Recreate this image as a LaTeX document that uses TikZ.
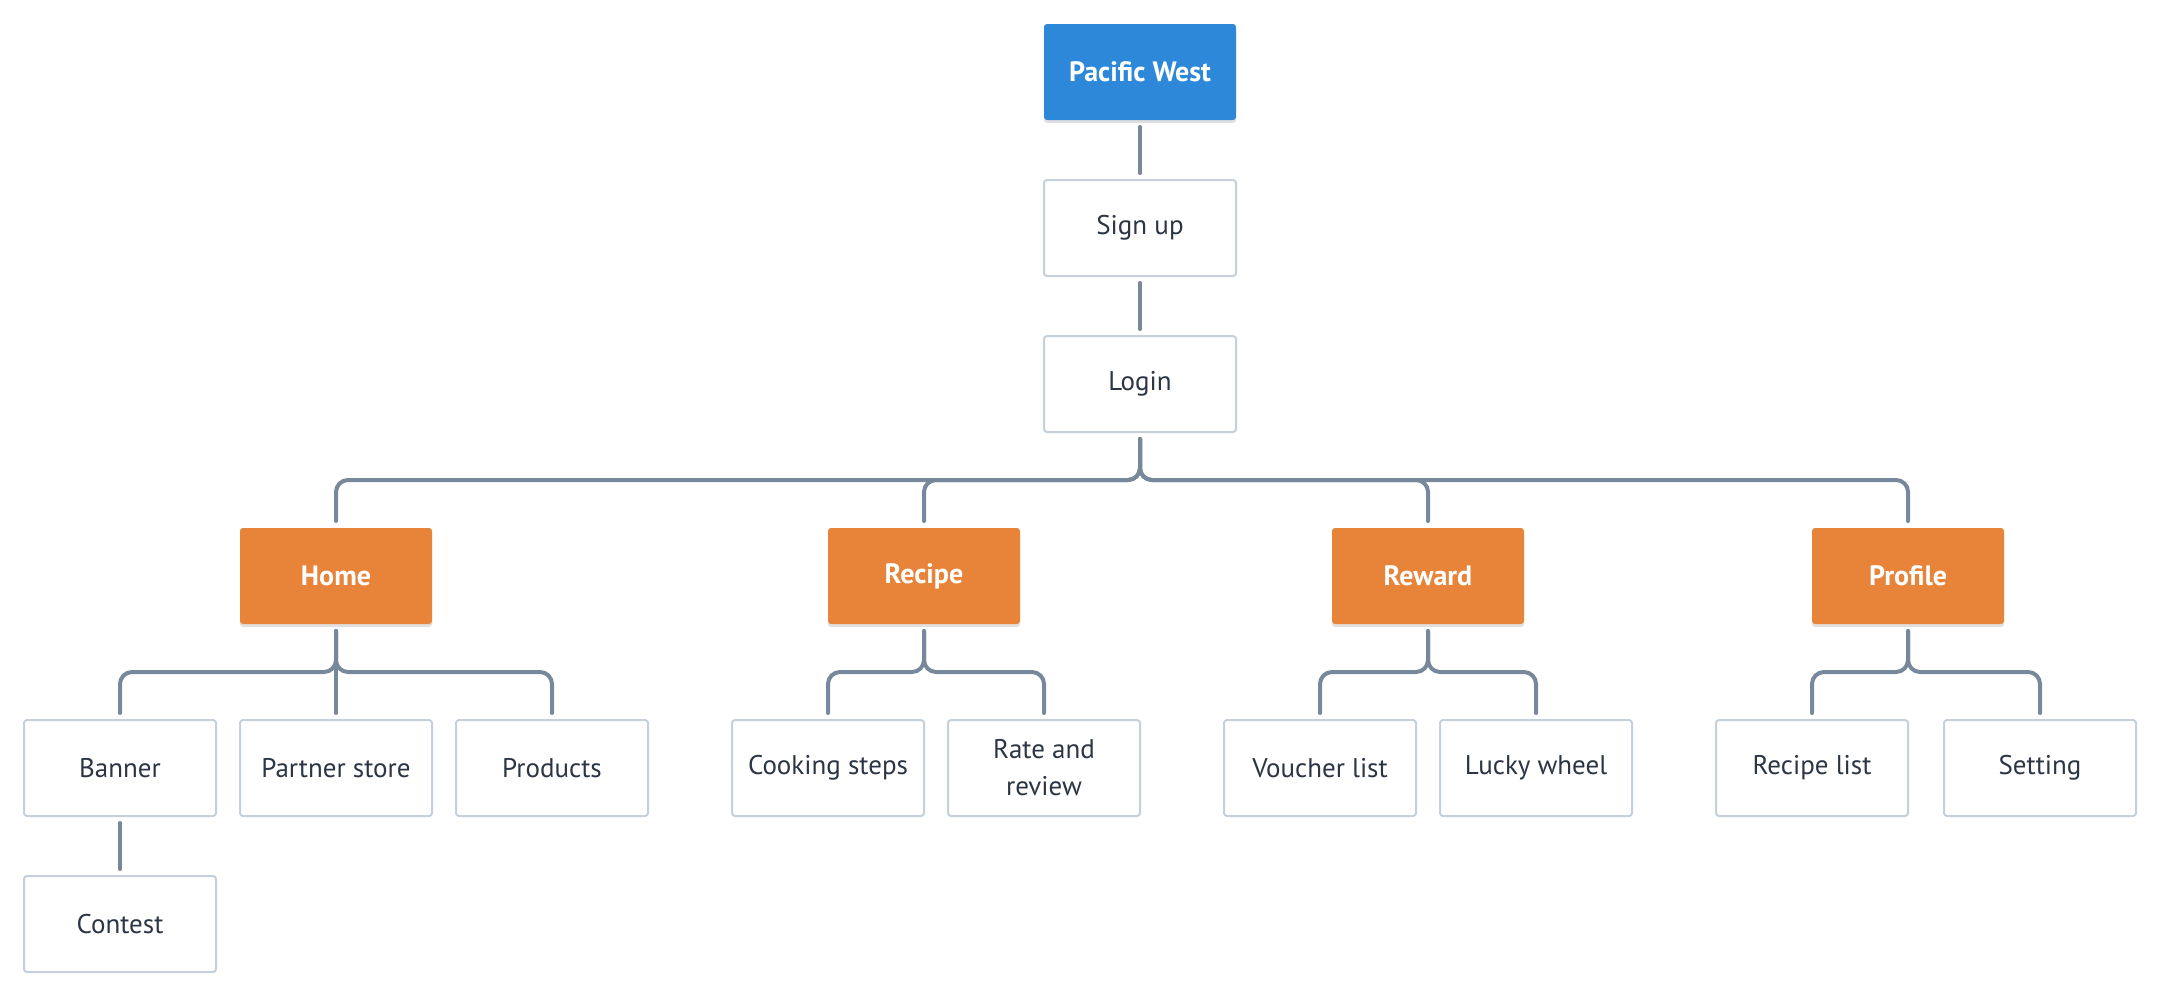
\documentclass[tikz,border=0pt]{standalone}
\usepackage{fontspec}
\setmainfont{PT Sans}
\usetikzlibrary{shadows}
\definecolor{pwblue}{HTML}{2E88D9}
\definecolor{pworange}{HTML}{E8843A}
\definecolor{pwtext}{HTML}{2B3544}
\definecolor{pwborder}{HTML}{C5D0DB}
\definecolor{pwline}{HTML}{76889A}
\tikzset{
  base/.style={rectangle, minimum width=192pt, minimum height=96pt, outer sep=0pt,
    rounded corners=3pt, align=center, font=\fontsize{27}{37}\selectfont},
  plain/.style={base, draw=pwborder, line width=2pt, fill=white, text=pwtext},
  rootbox/.style={base, fill=pwblue, text=white, font=\fontsize{28}{37}\selectfont\bfseries,
    drop shadow={shadow xshift=0pt, shadow yshift=-3pt, opacity=0.12, fill=black}},
  secbox/.style={base, fill=pworange, text=white, font=\fontsize{28}{37}\selectfont\bfseries,
    drop shadow={shadow xshift=0pt, shadow yshift=-3pt, opacity=0.12, fill=black}},
  conn/.style={draw=pwline, line width=4pt, line cap=round, rounded corners=12pt}
}
\begin{document}
\begin{tikzpicture}[x=1pt, y=-1pt]
\useasboundingbox (0,0) rectangle (2160,996);
% nodes
\node[rootbox] (pw) at (1140,72) {Pacific West};
\node[plain] (signup) at (1140,228) {Sign up};
\node[plain] (login) at (1140,384) {Login};
\node[secbox] (home) at (336,576) {Home};
\node[secbox] (recipe) at (924,576) {Recipe};
\node[secbox] (reward) at (1428,576) {Reward};
\node[secbox] (profile) at (1908,576) {Profile};
\node[plain] (banner) at (120,768) {Banner};
\node[plain] (partner) at (336,768) {Partner store};
\node[plain] (products) at (552,768) {Products};
\node[plain] (cooking) at (828,768) {Cooking steps};
\node[plain] (rate) at (1044,768) {Rate and\\review};
\node[plain] (voucher) at (1320,768) {Voucher list};
\node[plain] (lucky) at (1536,768) {Lucky wheel};
\node[plain] (rlist) at (1812,768) {Recipe list};
\node[plain] (setting) at (2040,768) {Setting};
\node[plain] (contest) at (120,924) {Contest};
\coordinate (bus1) at (0,480);
\coordinate (bus2) at (0,672);
% straight connectors
\draw[conn] ([yshift=-7pt]pw.south) -- ([yshift=7pt]signup.north);
\draw[conn] ([yshift=-7pt]signup.south) -- ([yshift=7pt]login.north);
\draw[conn] ([yshift=-7pt]banner.south) -- ([yshift=7pt]contest.north);
% main bus
\foreach \c in {home,recipe,reward,profile}{
  \draw[conn] ([yshift=-7pt]login.south) -- (login.south |- bus1) -- (\c.north |- bus1) -- ([yshift=7pt]\c.north);
}
% sub buses
\foreach \c in {banner,products}{
  \draw[conn] ([yshift=-7pt]home.south) -- (home.south |- bus2) -- (\c.north |- bus2) -- ([yshift=7pt]\c.north);
}
\draw[conn] ([yshift=-7pt]home.south) -- ([yshift=7pt]partner.north);
\foreach \p/\c in {recipe/cooking,recipe/rate,reward/voucher,reward/lucky,profile/rlist,profile/setting}{
  \draw[conn] ([yshift=-7pt]\p.south) -- (\p.south |- bus2) -- (\c.north |- bus2) -- ([yshift=7pt]\c.north);
}
\end{tikzpicture}
\end{document}
